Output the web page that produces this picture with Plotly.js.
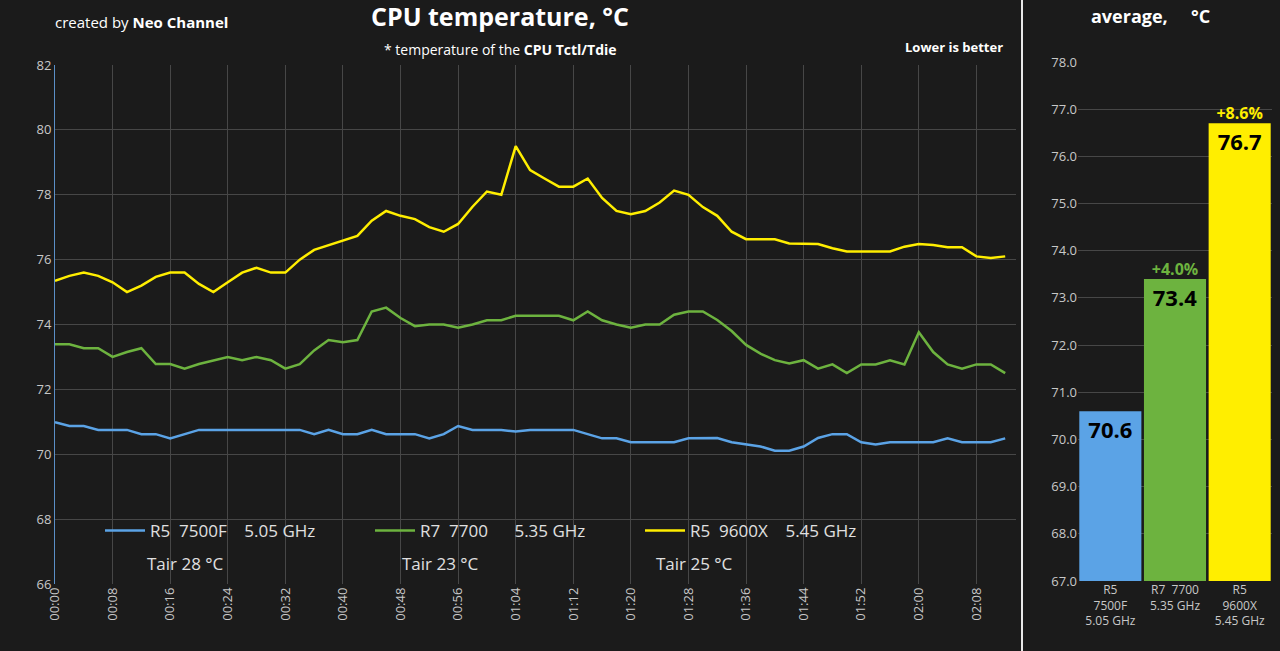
<!DOCTYPE html>
<html>
<head>
<meta charset="utf-8">
<script src="https://cdn.plot.ly/plotly-3.0.1.min.js"></script>
<style>
  html, body { margin: 0; padding: 0; background: #1b1b1b; }
  #chart { width: 1280px; height: 651px; }
</style>
</head>
<body>
<div id="chart"></div>
<script>
// minutes since start, sampled every 2 minutes
const minutes = [0, 2, 4, 6, 8, 10, 12, 14, 16, 18, 20, 22, 24, 26, 28, 30, 32, 34, 36, 38,
    40, 42, 44, 46, 48, 50, 52, 54, 56, 58, 60, 62, 64, 66, 68, 70, 72, 74, 76, 78,
    80, 82, 84, 86, 88, 90, 92, 94, 96, 98, 100, 102, 104, 106, 108, 110, 112, 114, 116, 118,
    120, 122, 124, 126, 128, 130, 132];

const r5_7500f = [70.99, 70.87, 70.87, 70.75, 70.75, 70.75, 70.62, 70.62, 70.49, 70.62, 70.75, 70.75, 70.75, 70.75, 70.75, 70.75, 70.75, 70.75, 70.62, 70.75,
    70.62, 70.62, 70.75, 70.62, 70.62, 70.62, 70.49, 70.62, 70.87, 70.75, 70.75, 70.75, 70.7, 70.75, 70.75, 70.75, 70.75, 70.62, 70.49, 70.49,
    70.37, 70.37, 70.37, 70.37, 70.49, 70.49, 70.5, 70.37, 70.3, 70.24, 70.11, 70.11, 70.24, 70.5, 70.62, 70.62, 70.37, 70.3, 70.37, 70.37,
    70.37, 70.37, 70.49, 70.37, 70.37, 70.37, 70.49];

const r7_7700 = [73.39, 73.39, 73.27, 73.27, 73.0, 73.15, 73.27, 72.78, 72.78, 72.64, 72.78, 72.9, 73.0, 72.9, 73.0, 72.9, 72.64, 72.78, 73.2, 73.52,
    73.45, 73.52, 74.4, 74.52, 74.2, 73.95, 74.0, 74.0, 73.9, 74.0, 74.13, 74.13, 74.27, 74.27, 74.27, 74.27, 74.13, 74.4, 74.13, 74.0,
    73.9, 74.0, 74.0, 74.3, 74.4, 74.4, 74.14, 73.8, 73.37, 73.1, 72.9, 72.8, 72.9, 72.64, 72.77, 72.5, 72.77, 72.77, 72.9, 72.77,
    73.76, 73.15, 72.77, 72.64, 72.77, 72.77, 72.5];

const r5_9600x = [75.35, 75.5, 75.6, 75.5, 75.3, 75.0, 75.2, 75.47, 75.6, 75.6, 75.25, 75.0, 75.3, 75.6, 75.75, 75.6, 75.6, 76.0, 76.3, 76.45,
    76.6, 76.73, 77.2, 77.5, 77.35, 77.25, 77.0, 76.86, 77.1, 77.63, 78.1, 78.0, 79.5, 78.76, 78.5, 78.25, 78.25, 78.5, 77.9, 77.5,
    77.4, 77.5, 77.76, 78.13, 78.0, 77.62, 77.35, 76.86, 76.63, 76.63, 76.63, 76.5, 76.48, 76.48, 76.35, 76.25, 76.25, 76.25, 76.25, 76.4,
    76.48, 76.45, 76.38, 76.38, 76.1, 76.05, 76.1];

const tickMinutes = [0, 8, 16, 24, 32, 40, 48, 56, 64, 72, 80, 88, 96, 104, 112, 120, 128];
const tickLabels = ['00:00', '00:08', '00:16', '00:24', '00:32', '00:40', '00:48', '00:56', '01:04',
    '01:12', '01:20', '01:28', '01:36', '01:44', '01:52', '02:00', '02:08'];

const cpuNames = ['R5  7500F    5.05 GHz', 'R7  7700      5.35 GHz', 'R5  9600X    5.45 GHz'];
const barLabels = ['R5<br>7500F<br>5.05 GHz', 'R7  7700<br>5.35 GHz', 'R5<br>9600X<br>5.45 GHz'];
const averages = [70.6, 73.4, 76.7];
const diffLabels = ['', '+4.0%', '+8.6%'];
const tairLabels = ['Tair 28 °C', 'Tair 23 °C', 'Tair 25 °C'];
const colors = ['#5ba3e6', '#6db33f', '#ffee00'];

const lineSeries = [r5_7500f, r7_7700, r5_9600x];
const traces = lineSeries.map((ys, i) => ({
    x: minutes,
    y: ys,
    name: cpuNames[i],
    type: 'scatter',
    mode: 'lines',
    line: { color: colors[i], width: 2.5 },
    xaxis: 'x',
    yaxis: 'y'
}));

traces.push({
    x: [0, 1, 2],
    y: averages,
    type: 'bar',
    width: 0.96,
    marker: { color: colors },
    text: averages.map(v => '<b>' + v.toFixed(1) + '</b>'),
    textposition: 'inside',
    insidetextanchor: 'end',
    textfont: { color: '#000', size: 22 },
    showlegend: false,
    xaxis: 'x2',
    yaxis: 'y2'
});
traces.push({
    x: [0, 1, 2],
    y: averages,
    type: 'scatter',
    mode: 'text',
    text: diffLabels.map(t => t ? '<b>' + t + '</b>' : ''),
    textposition: 'top center',
    textfont: { color: colors, size: 16 },
    showlegend: false,
    hoverinfo: 'skip',
    xaxis: 'x2',
    yaxis: 'y2'
});

const grid = '#474747';
const tickFont = { color: '#c8c8c8', size: 13 };

const annotations = [
    { text: 'created by <b>Neo Channel</b>', x: 53, y: 22, font: { size: 15, color: '#fff' }, xanchor: 'left' },
    { text: '<b>CPU temperature, °C</b>', x: 500, y: 16, font: { size: 25, color: '#fff' } },
    { text: '* temperature of the <b>CPU Tctl/Tdie</b>', x: 500, y: 49, font: { size: 14, color: '#fff' } },
    { text: '<b>Lower is better</b>', x: 1005, y: 47, font: { size: 13, color: '#fff' }, xanchor: 'right' },
    { text: '<b>average,     °C</b>', x: 1150, y: 16, font: { size: 18, color: '#fff' } }
].map(a => Object.assign({ xref: 'paper', yref: 'paper', showarrow: false, yanchor: 'middle', xanchor: 'center' }, a,
    { x: a.x / 1280, y: 1 - a.y / 651 }));

const tairX = [145, 400, 654];
tairLabels.forEach((t, i) => annotations.push({
    text: t, xref: 'paper', yref: 'paper', x: tairX[i] / 1280, y: 1 - 563 / 651,
    xanchor: 'left', yanchor: 'middle', showarrow: false, font: { size: 17, color: '#e0e0e0' }
}));

const layout = {
    width: 1280,
    height: 651,
    paper_bgcolor: '#1b1b1b',
    plot_bgcolor: '#1b1b1b',
    font: { family: 'Open Sans, sans-serif', color: '#ddd' },
    margin: { l: 0, r: 0, t: 0, b: 0 },
    showlegend: true,
    legend: {
        orientation: 'h',
        x: 100 / 1280, y: 1 - 531 / 651,
        xanchor: 'left', yanchor: 'middle',
        bgcolor: 'rgba(0,0,0,0)',
        entrywidth: 215,
        font: { size: 17, color: '#e0e0e0' },
        itemwidth: 40
    },
    xaxis: {
        domain: [55 / 1280, 1016 / 1280],
        range: [0, 133.5],
        tickvals: tickMinutes,
        ticktext: tickLabels,
        tickangle: -90,
        tickfont: tickFont,
        gridcolor: grid,
        zeroline: false,
        showline: false,
        anchor: 'y'
    },
    yaxis: {
        domain: [1 - 584 / 651, 1 - 65 / 651],
        range: [66, 82],
        dtick: 2,
        tickfont: tickFont,
        gridcolor: grid,
        zeroline: false,
        showline: true,
        linecolor: '#5b8fc7',
        anchor: 'x'
    },
    xaxis2: {
        domain: [1078 / 1280, 1272 / 1280],
        range: [-0.5, 2.5],
        tickvals: [0, 1, 2],
        ticktext: barLabels,
        tickfont: { color: '#c8c8c8', size: 12 },
        showgrid: false,
        zeroline: false,
        anchor: 'y2'
    },
    yaxis2: {
        domain: [1 - 581 / 651, 1 - 62 / 651],
        range: [67, 78],
        dtick: 1,
        tickformat: '.1f',
        tickfont: tickFont,
        gridcolor: grid,
        zeroline: false,
        anchor: 'x2'
    },
    shapes: [{
        type: 'line', xref: 'paper', yref: 'paper',
        x0: 1022 / 1280, x1: 1022 / 1280, y0: 0, y1: 1,
        line: { color: '#e8e8e8', width: 2 }
    }],
    annotations: annotations
};

Plotly.newPlot('chart', traces, layout, { displayModeBar: false, staticPlot: true });
</script>
</body>
</html>
